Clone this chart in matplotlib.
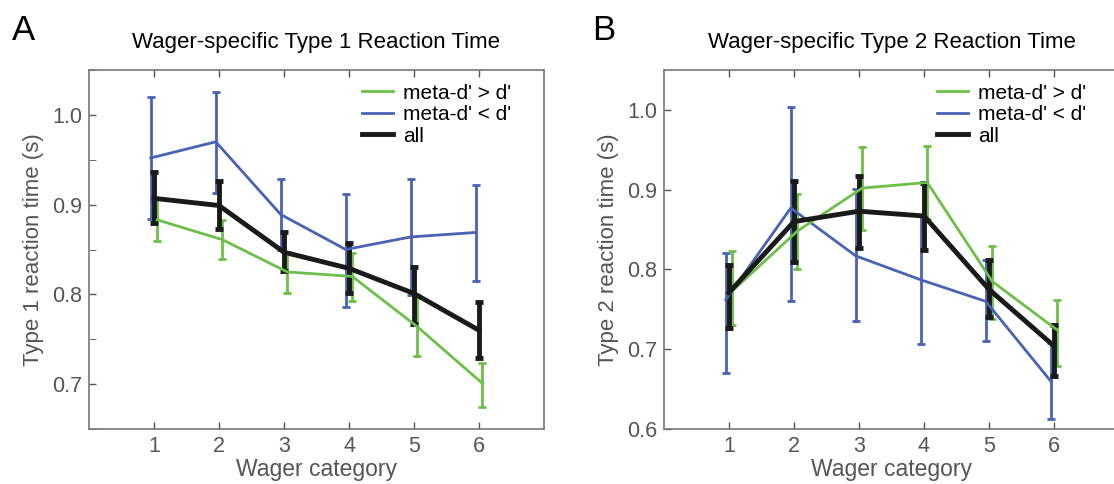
import numpy as np
import matplotlib.pyplot as plt
from matplotlib.ticker import MultipleLocator
from matplotlib.lines import Line2D

plt.rcParams['font.family'] = ['Liberation Sans', 'DejaVu Sans']

# Data
wager = np.array([1, 2, 3, 4, 5, 6])

# Panel A: Type 1 reaction time (mean, lower end, upper end of error bar)
t1_hi_mean = [0.883, 0.861, 0.825, 0.820, 0.764, 0.701]
t1_hi_lo = [0.859, 0.839, 0.802, 0.793, 0.731, 0.675]
t1_hi_up = [0.907, 0.883, 0.847, 0.846, 0.796, 0.724]

t1_lo_mean = [0.952, 0.970, 0.889, 0.850, 0.864, 0.869]
t1_lo_lo = [0.884, 0.913, 0.849, 0.786, 0.799, 0.815]
t1_lo_up = [1.020, 1.026, 0.929, 0.912, 0.929, 0.922]

t1_all_mean = [0.907, 0.899, 0.847, 0.829, 0.801, 0.760]
t1_all_lo = [0.879, 0.873, 0.826, 0.802, 0.767, 0.729]
t1_all_up = [0.936, 0.926, 0.869, 0.857, 0.831, 0.791]

# Panel B: Type 2 reaction time
t2_hi_mean = [0.773, 0.848, 0.902, 0.909, 0.785, 0.724]
t2_hi_lo = [0.730, 0.801, 0.849, 0.863, 0.738, 0.679]
t2_hi_up = [0.823, 0.895, 0.954, 0.955, 0.830, 0.762]

t2_lo_mean = [0.762, 0.877, 0.817, 0.787, 0.760, 0.660]
t2_lo_lo = [0.670, 0.760, 0.735, 0.707, 0.710, 0.612]
t2_lo_up = [0.821, 1.003, 0.901, 0.868, 0.812, 0.708]

t2_all_mean = [0.771, 0.860, 0.873, 0.867, 0.775, 0.704]
t2_all_lo = [0.726, 0.809, 0.827, 0.824, 0.741, 0.667]
t2_all_up = [0.805, 0.911, 0.917, 0.908, 0.812, 0.730]

labels = ["meta-d' > d'", "meta-d' < d'", 'all']

green = '#6cc04a'
blue = '#4a62b6'
black = '#1a1a1a'
gray = '#555555'


def draw(ax, x, mean, lo, up, color, lw):
    mean = np.array(mean)
    err = [mean - np.array(lo), np.array(up) - mean]
    ax.errorbar(x, mean, yerr=err, color=color, lw=lw, elinewidth=lw,
                capsize=3, capthick=lw)


def style(ax, ylim, yticks, minor, ylabel, title):
    ax.set_xlim(0, 7)
    ax.set_ylim(*ylim)
    ax.set_xticks(wager)
    ax.set_yticks(yticks)
    ax.set_yticklabels(['%.1f' % v for v in yticks])
    if minor:
        ax.yaxis.set_minor_locator(MultipleLocator(0.05))
    ax.tick_params(direction='in', top=True, colors=gray, labelsize=15.5,
                   length=5, width=1, pad=5)
    ax.tick_params(which='minor', direction='in', length=5, colors=gray)
    for sp in ax.spines.values():
        sp.set_color('#777777')
        sp.set_linewidth(1.2)
    ax.set_xlabel('Wager category', fontsize=16.5, color=gray, labelpad=1)
    ax.set_ylabel(ylabel, fontsize=16, color=gray, labelpad=6)
    ax.set_title(title, fontsize=16, pad=16)
    handles = [Line2D([], [], color=green, lw=2),
               Line2D([], [], color=blue, lw=2),
               Line2D([], [], color=black, lw=3.5)]
    ax.legend(handles, labels, loc='upper right', frameon=False,
              fontsize=15, handlelength=1.5, handletextpad=0.5,
              labelspacing=0.12, borderaxespad=0.0,
              bbox_to_anchor=(0.947, 0.985))


fig = plt.figure(figsize=(11.14, 4.84), dpi=100)
axA = fig.add_axes([89 / 1114, 55 / 484, 455 / 1114, 359 / 484])
axB = fig.add_axes([664 / 1114, 55 / 484, 455 / 1114, 359 / 484])

draw(axA, wager - 0.05, t1_lo_mean, t1_lo_lo, t1_lo_up, blue, 2)
draw(axA, wager + 0.05, t1_hi_mean, t1_hi_lo, t1_hi_up, green, 2)
draw(axA, wager, t1_all_mean, t1_all_lo, t1_all_up, black, 3.5)
style(axA, (0.65, 1.05), [0.7, 0.8, 0.9, 1.0], True,
      'Type 1 reaction time (s)', 'Wager-specific Type 1 Reaction Time')

draw(axB, wager - 0.05, t2_lo_mean, t2_lo_lo, t2_lo_up, blue, 2)
draw(axB, wager + 0.05, t2_hi_mean, t2_hi_lo, t2_hi_up, green, 2)
draw(axB, wager, t2_all_mean, t2_all_lo, t2_all_up, black, 3.5)
style(axB, (0.6, 1.05), [0.6, 0.7, 0.8, 0.9, 1.0], False,
      'Type 2 reaction time (s)', 'Wager-specific Type 2 Reaction Time')

fig.text(12 / 1114, 1 - 40 / 484, 'A', fontsize=25)
fig.text(592 / 1114, 1 - 40 / 484, 'B', fontsize=25)

fig.savefig('out.png', dpi=100)
